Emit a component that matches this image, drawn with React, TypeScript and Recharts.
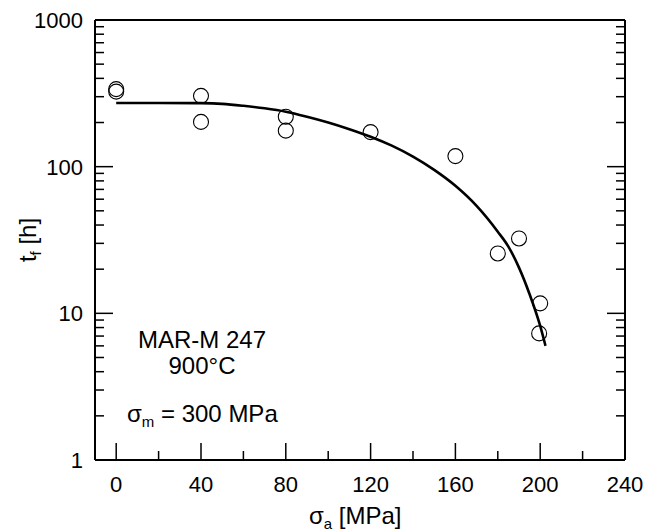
import React from 'react';
import { ComposedChart, Line, Scatter, XAxis, YAxis } from 'recharts';

// fitted curve, t_f [h] vs sigma_a [MPa]
const curveStress = [0, 20, 40, 50, 60, 70, 80, 90, 100, 110, 120, 130, 140, 150, 160, 170, 180, 185, 190, 195, 200, 202.5];
const curveLife = [272, 272, 271, 268, 260, 250, 237, 219, 200, 180, 160, 139, 117, 95, 74, 54, 36, 28.5, 20.5, 13.5, 8.2, 6.0];

// measured points
const testStress = [0, 0, 40, 40, 80, 80, 120, 160, 180, 190, 200, 199.5];
const testLife = [338, 325, 304, 202, 219, 176, 172, 118, 25.6, 32.4, 11.7, 7.3];

const xTicks = [0, 20, 40, 60, 80, 100, 120, 140, 160, 180, 200, 220, 240];
const xMajor = [0, 40, 80, 120, 160, 200, 240];
const yTicks = [
  1, 2, 3, 4, 5, 6, 7, 8, 9,
  10, 20, 30, 40, 50, 60, 70, 80, 90,
  100, 200, 300, 400, 500, 600, 700, 800, 900,
  1000,
];
const yMajor = [1, 10, 100, 1000];

const curveData = curveStress.map((x, i) => ({ x, y: curveLife[i] }));
const testData = testStress.map((x, i) => ({ x, y: testLife[i] }));

const W = 646;
const H = 532;
const LEFT = 95;
const RIGHT = 625;
const TOP = 20;
const BOTTOM = 460;
const FONT = '"Liberation Sans", Arial, sans-serif';
const FS = 22; // tick labels
const FA = 24; // annotations and titles

const Circle = (props: any) => (
  <circle cx={props.cx} cy={props.cy} r={7.5} fill="none" stroke="#000" strokeWidth={1.1} />
);

const bottomTick = (props: any) => {
  const { x, payload } = props;
  const major = xMajor.includes(payload.value);
  return (
    <g>
      <line x1={x} x2={x} y1={BOTTOM} y2={BOTTOM - (major ? 17 : 9)} stroke="#000" strokeWidth={1.5} />
      {major && (
        <text x={x} y={492} textAnchor="middle" fontSize={FS} fontFamily={FONT} fill="#000">
          {payload.value}
        </text>
      )}
    </g>
  );
};

const topTick = (props: any) => {
  const { x, payload } = props;
  const major = xMajor.includes(payload.value);
  return <line x1={x} x2={x} y1={TOP} y2={TOP + (major ? 17 : 9)} stroke="#000" strokeWidth={1.5} />;
};

const leftTick = (props: any) => {
  const { y, payload } = props;
  const major = yMajor.includes(payload.value);
  return (
    <g>
      <line x1={LEFT} x2={LEFT + (major ? 18 : 9)} y1={y} y2={y} stroke="#000" strokeWidth={1.5} />
      {major && (
        <text x={83} y={y + 8} textAnchor="end" fontSize={FS} fontFamily={FONT} fill="#000">
          {payload.value}
        </text>
      )}
    </g>
  );
};

const rightTick = (props: any) => {
  const { y, payload } = props;
  const major = yMajor.includes(payload.value);
  return <line x1={RIGHT} x2={RIGHT - (major ? 18 : 9)} y1={y} y2={y} stroke="#000" strokeWidth={1.5} />;
};

const axisLine = { stroke: '#000', strokeWidth: 2 };

export default function App() {
  return (
    <div style={{ position: 'absolute', left: 0, top: 0, background: '#fff' }}>
      <ComposedChart width={W} height={H} margin={{ top: 0, right: 0, bottom: 0, left: 0 }}>
        <XAxis
          dataKey="x"
          type="number"
          domain={[-10, 240]}
          ticks={xTicks}
          interval={0}
          height={H - BOTTOM}
          axisLine={axisLine}
          tickLine={false}
          tick={bottomTick}
          allowDataOverflow
        />
        <XAxis
          xAxisId="top"
          orientation="top"
          type="number"
          domain={[-10, 240]}
          ticks={xTicks}
          interval={0}
          height={TOP}
          axisLine={axisLine}
          tickLine={false}
          tick={topTick}
          allowDataOverflow
        />
        <YAxis
          dataKey="y"
          type="number"
          scale="log"
          domain={[1, 1000]}
          ticks={yTicks}
          interval={0}
          width={LEFT}
          axisLine={axisLine}
          tickLine={false}
          tick={leftTick}
          allowDataOverflow
        />
        <YAxis
          yAxisId="right"
          orientation="right"
          type="number"
          scale="log"
          domain={[1, 1000]}
          ticks={yTicks}
          interval={0}
          width={W - RIGHT}
          axisLine={axisLine}
          tickLine={false}
          tick={rightTick}
          allowDataOverflow
        />
        <Line
          data={curveData}
          dataKey="y"
          type="monotone"
          stroke="#000"
          strokeWidth={2.6}
          dot={false}
          isAnimationActive={false}
        />
        <Scatter data={testData} dataKey="y" shape={Circle} isAnimationActive={false} />

        <text x={202} y={348} textAnchor="middle" fontSize={FA} fontFamily={FONT} fill="#000">
          MAR-M 247
        </text>
        <text x={202} y={374} textAnchor="middle" fontSize={FA} fontFamily={FONT} fill="#000">
          900°C
        </text>
        <text x={127} y={422} fontSize={FA} fontFamily={FONT} fill="#000">
          σ<tspan fontSize={15} dy={5}>m</tspan>
          <tspan dy={-5}> = 300 MPa</tspan>
        </text>
        <text x={309} y={524} fontSize={FA} fontFamily={FONT} fill="#000">
          σ<tspan fontSize={15} dy={5}>a</tspan>
          <tspan dy={-5}> [MPa]</tspan>
        </text>
        <text
          transform="translate(36 240) rotate(-90)"
          textAnchor="middle"
          fontSize={FA}
          fontFamily={FONT}
          fill="#000"
        >
          t<tspan fontSize={15} dy={5}>f</tspan>
          <tspan dy={-5}> [h]</tspan>
        </text>
      </ComposedChart>
    </div>
  );
}
